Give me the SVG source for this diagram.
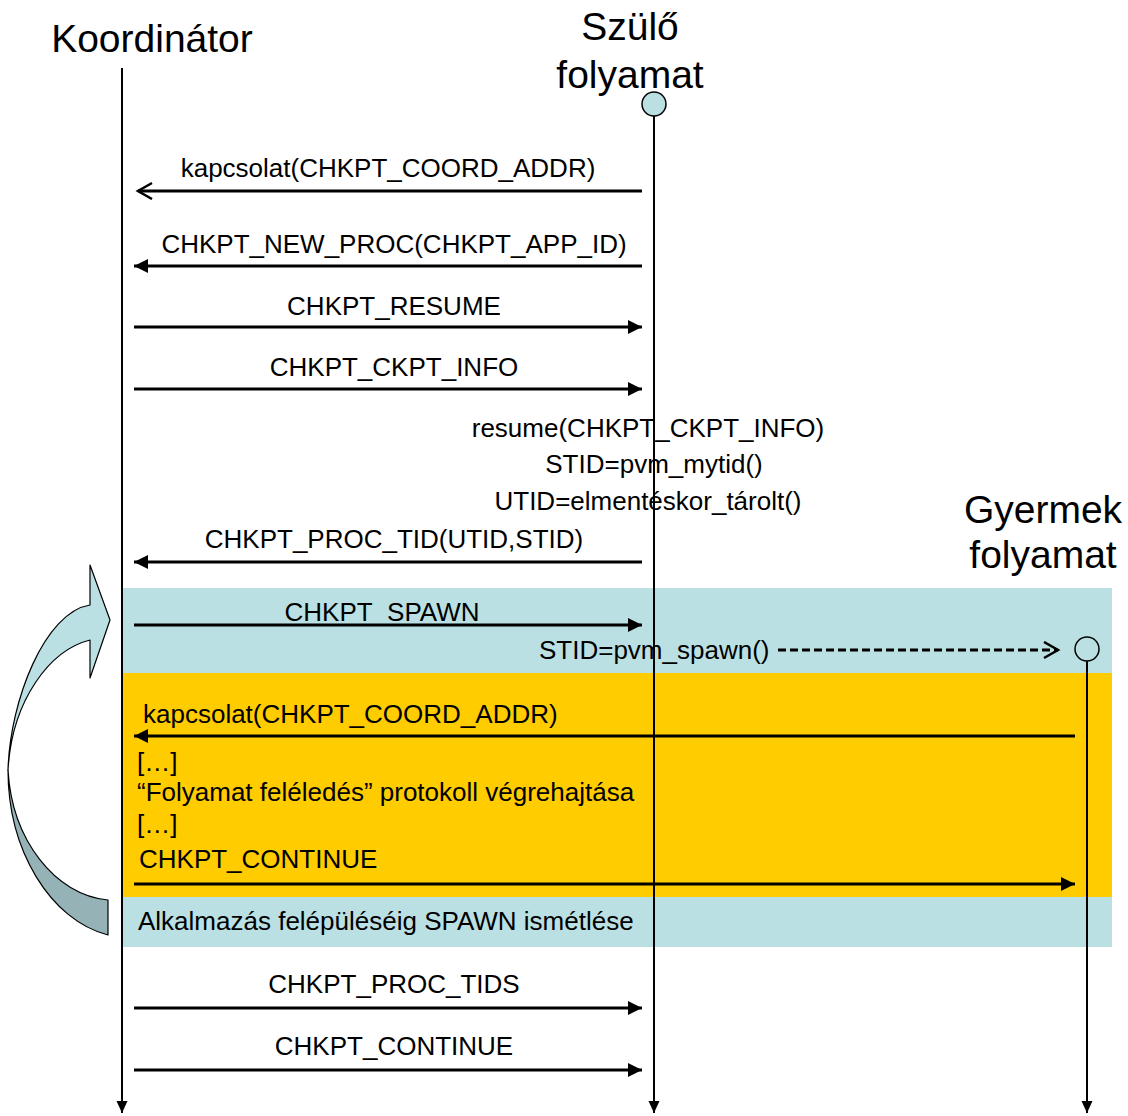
<svg xmlns="http://www.w3.org/2000/svg" width="1128" height="1116" viewBox="0 0 1128 1116">
<defs>
<style>
text{font-family:"Liberation Sans",Arial,sans-serif;fill:#000}
.t{font-size:39px;text-anchor:middle}
.l{font-size:26px}
.c{text-anchor:middle}
.msg{stroke:#000;stroke-width:3;fill:none}
.life{stroke:#000;stroke-width:2;fill:none}
</style>
<marker id="fa" markerUnits="userSpaceOnUse" markerWidth="16" markerHeight="14" refX="14" refY="7" orient="auto">
<path d="M0,0 L14,7 L0,14 Z" fill="#000"/>
</marker>
<marker id="oa" markerUnits="userSpaceOnUse" markerWidth="18" markerHeight="20" refX="15" refY="9" orient="auto">
<path d="M1,1 L15,9 L1,17" fill="none" stroke="#000" stroke-width="2.5"/>
</marker>
<marker id="la" markerUnits="userSpaceOnUse" markerWidth="14" markerHeight="12" refX="12" refY="5.5" orient="auto">
<path d="M0,0 L12,5.5 L0,11 Z" fill="#000"/>
</marker>
</defs>
<rect width="1128" height="1116" fill="#fff"/>
<g id="bands">
<rect x="123" y="588" width="989" height="85" fill="#bbe0e3"/>
<rect x="123" y="673" width="989" height="224" fill="#ffcc00"/>
<rect x="123" y="897" width="989" height="50" fill="#bbe0e3"/>
</g>
<g id="loop-arrow" stroke="#000" stroke-width="1.2" stroke-linejoin="round">
<path d="M90,565 L110,620 L90,678 L90,640 C50,650 12,700 8,770 C10,700 45,612 90,605 Z" fill="#bbe0e3"/>
<path d="M8,770 C8,850 50,920 108,935 L108,900 C55,895 12,840 8,770 Z" fill="#95b3b6"/>
</g>
<g id="koordinator">
<text class="t" x="152" y="52">Koordinátor</text>
<line class="life" x1="122" y1="68" x2="122" y2="1113" marker-end="url(#la)"/>
</g>
<g id="szulo">
<text class="t" x="630" y="40">Szülő</text>
<text class="t" x="630" y="88">folyamat</text>
<line class="life" stroke-width="2.5" x1="654" y1="116" x2="654" y2="1113" marker-end="url(#la)"/>
<circle cx="654" cy="104" r="12" fill="#bbe0e3" stroke="#000" stroke-width="1.5"/>
</g>
<g id="gyermek">
<text class="t" x="1043" y="523">Gyermek</text>
<text class="t" x="1043" y="568">folyamat</text>
<line class="life" x1="1087" y1="661" x2="1087" y2="1113" marker-end="url(#la)"/>
<circle cx="1087" cy="649" r="12" fill="none" stroke="#000" stroke-width="1.5"/>
</g>
<g id="connectors">
<line class="msg" x1="642" y1="191" x2="138" y2="191" marker-end="url(#oa)"/>
<line class="msg" x1="642" y1="266" x2="134" y2="266" marker-end="url(#fa)"/>
<line class="msg" x1="134" y1="327" x2="642" y2="327" marker-end="url(#fa)"/>
<line class="msg" x1="134" y1="389" x2="642" y2="389" marker-end="url(#fa)"/>
<line class="msg" x1="642" y1="562" x2="134" y2="562" marker-end="url(#fa)"/>
<line class="msg" x1="134" y1="625" x2="642" y2="625" marker-end="url(#fa)"/>
<line class="msg" stroke-width="2.5" stroke-dasharray="8,4" x1="778" y1="650" x2="1058" y2="650" marker-end="url(#oa)"/>
<line class="msg" x1="1075" y1="736" x2="134" y2="736" marker-end="url(#fa)"/>
<line class="msg" x1="134" y1="884" x2="1075" y2="884" marker-end="url(#fa)"/>
<line class="msg" x1="134" y1="1008" x2="642" y2="1008" marker-end="url(#fa)"/>
<line class="msg" x1="134" y1="1070" x2="642" y2="1070" marker-end="url(#fa)"/>
</g>
<g id="labels">
<text class="l c" x="388" y="177">kapcsolat(CHKPT_COORD_ADDR)</text>
<text class="l c" x="394" y="253">CHKPT_NEW_PROC(CHKPT_APP_ID)</text>
<text class="l c" x="394" y="315">CHKPT_RESUME</text>
<text class="l c" x="394" y="376">CHKPT_CKPT_INFO</text>
<text class="l c" x="648" y="437">resume(CHKPT_CKPT_INFO)</text>
<text class="l c" x="654" y="473">STID=pvm_mytid()</text>
<text class="l c" x="648" y="510">UTID=elmentéskor_tárolt()</text>
<text class="l c" x="394" y="548">CHKPT_PROC_TID(UTID,STID)</text>
<text class="l c" x="382" y="621">CHKPT_SPAWN</text>
<text class="l" x="539" y="659">STID=pvm_spawn()</text>
<text class="l" x="143" y="723">kapcsolat(CHKPT_COORD_ADDR)</text>
<text class="l" x="137" y="771">[…]</text>
<text class="l" x="137" y="801">“Folyamat feléledés” protokoll végrehajtása</text>
<text class="l" x="137" y="833">[…]</text>
<text class="l" x="139" y="868">CHKPT_CONTINUE</text>
<text class="l" x="138" y="930">Alkalmazás felépüléséig SPAWN ismétlése</text>
<text class="l c" x="394" y="993">CHKPT_PROC_TIDS</text>
<text class="l c" x="394" y="1055">CHKPT_CONTINUE</text>
</g>
</svg>
